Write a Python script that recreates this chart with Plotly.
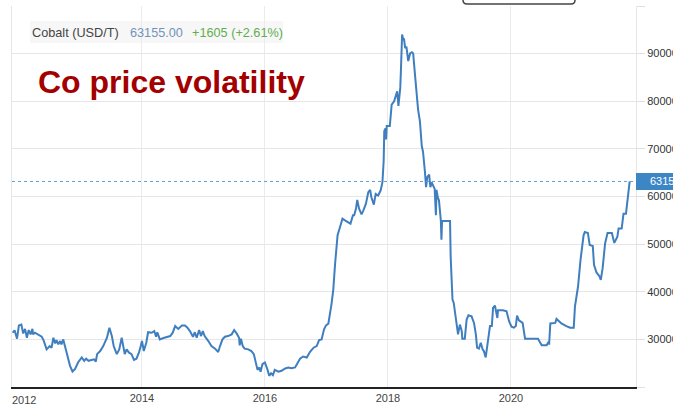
import plotly.graph_objects as go
import pandas as pd

# ---- data (decimal year, USD/T) ----
years = [
    2011.90, 2011.93, 2011.97, 2012.00, 2012.04, 2012.07, 2012.10, 2012.13, 2012.16, 2012.19,
    2012.22, 2012.23, 2012.26, 2012.31, 2012.37, 2012.40, 2012.45, 2012.50, 2012.53, 2012.56,
    2012.59, 2012.61, 2012.64, 2012.67, 2012.69, 2012.72, 2012.75, 2012.78, 2012.80, 2012.83,
    2012.87, 2012.91, 2012.96, 2013.02, 2013.06, 2013.09, 2013.13, 2013.18, 2013.22, 2013.25,
    2013.27, 2013.32, 2013.37, 2013.43, 2013.47, 2013.51, 2013.54, 2013.59, 2013.63, 2013.67,
    2013.70, 2013.72, 2013.75, 2013.79, 2013.83, 2013.87, 2013.91, 2013.95, 2013.98, 2014.00,
    2014.03, 2014.07, 2014.10, 2014.16, 2014.20, 2014.23, 2014.25, 2014.29, 2014.35, 2014.40,
    2014.46, 2014.50, 2014.54, 2014.59, 2014.65, 2014.70, 2014.74, 2014.78, 2014.83, 2014.86,
    2014.89, 2014.93, 2014.96, 2014.99, 2015.02, 2015.08, 2015.13, 2015.19, 2015.24, 2015.27,
    2015.31, 2015.35, 2015.40, 2015.46, 2015.50, 2015.54, 2015.58, 2015.59, 2015.61, 2015.64,
    2015.67, 2015.73, 2015.78, 2015.82, 2015.85, 2015.88, 2015.91, 2015.93, 2015.96, 2016.00,
    2016.04, 2016.07, 2016.10, 2016.13, 2016.16, 2016.22, 2016.27, 2016.33, 2016.38, 2016.43,
    2016.49, 2016.53, 2016.57, 2016.62, 2016.68, 2016.73, 2016.79, 2016.84, 2016.88, 2016.92,
    2016.96, 2016.99, 2017.03, 2017.08, 2017.11, 2017.14, 2017.18, 2017.22, 2017.26, 2017.30,
    2017.35, 2017.39, 2017.43, 2017.45, 2017.48, 2017.50, 2017.53, 2017.57, 2017.60, 2017.64,
    2017.68, 2017.71, 2017.73, 2017.77, 2017.80, 2017.84, 2017.88, 2017.91, 2017.93, 2017.94,
    2017.96, 2017.97, 2017.98, 2018.03, 2018.06, 2018.10, 2018.13, 2018.15, 2018.17, 2018.20,
    2018.21, 2018.23, 2018.25, 2018.26, 2018.28, 2018.30, 2018.33, 2018.36, 2018.39, 2018.41,
    2018.44, 2018.47, 2018.49, 2018.52, 2018.55, 2018.57, 2018.59, 2018.60, 2018.62, 2018.64,
    2018.67, 2018.69, 2018.71, 2018.74, 2018.76, 2018.78, 2018.79, 2018.81, 2018.83, 2018.86,
    2018.87, 2018.88, 2018.95, 2019.01, 2019.02, 2019.05, 2019.07, 2019.11, 2019.14, 2019.17,
    2019.20, 2019.21, 2019.25, 2019.28, 2019.31, 2019.36, 2019.40, 2019.43, 2019.45, 2019.48,
    2019.51, 2019.54, 2019.56, 2019.59, 2019.63, 2019.66, 2019.69, 2019.71, 2019.74, 2019.78,
    2019.79, 2019.87, 2019.93, 2019.97, 2020.01, 2020.05, 2020.08, 2020.10, 2020.13, 2020.19,
    2020.23, 2020.44, 2020.50, 2020.58, 2020.61, 2020.62, 2020.64, 2020.72, 2020.74, 2020.79,
    2020.82, 2020.90, 2020.96, 2021.02, 2021.04, 2021.09, 2021.13, 2021.18, 2021.20, 2021.25,
    2021.28, 2021.33, 2021.35, 2021.39, 2021.44, 2021.46, 2021.49, 2021.53, 2021.57, 2021.64,
    2021.68, 2021.73, 2021.75, 2021.80, 2021.83, 2021.87, 2021.89, 2021.93,
]
prices = [
    31400, 31900, 30150, 32900, 33100, 31250, 32200, 30350, 31950, 31050,
    32200, 31050, 31400, 31050, 30550, 29850, 27900, 28600, 28250, 30350,
    29150, 29850, 28950, 29650, 28950, 30000, 28600, 27200, 25800, 24450,
    23250, 23750, 25150, 26200, 25500, 25950, 25500, 25600, 25800, 25350,
    26900, 27550, 28600, 30350, 32450, 30700, 28600, 26900, 27900, 30350,
    28600, 26900, 27900, 27200, 26900, 25700, 25950, 27200, 28600, 29650,
    27550, 29300, 31500, 31400, 31750, 30550, 31500, 30000, 30300, 30550,
    30700, 31400, 32800, 32200, 32900, 32900, 32450, 31750, 30550, 31500,
    30350, 31950, 30700, 31750, 30700, 29650, 28600, 28050, 27350, 28600,
    30000, 30550, 30700, 31050, 31950, 31250, 30350, 28750, 30150, 28600,
    28050, 27900, 27550, 26900, 25150, 23600, 24100, 23200, 24800, 25150,
    23750, 22350, 22900, 22500, 23600, 23200, 23400, 23900, 24100, 23950,
    24100, 25150, 25950, 26400, 26200, 27350, 28250, 28600, 29850, 30000,
    32100, 32900, 33300, 37300, 40400, 45950, 51850, 53600, 55350, 55000,
    54650, 54300, 56050, 56050, 57450, 59300, 57450, 56250, 57100, 58450,
    60900, 61400, 59850, 58300, 60550, 60200, 61250, 63000, 67500, 73750,
    74300, 72000, 74800, 74800, 79300, 80000, 81250, 82100, 79000, 82800,
    86250, 94000, 92850, 93200, 91150, 91450, 88450, 90050, 90300, 90050,
    85550, 80000, 78250, 75800, 70600, 69400, 67500, 65400, 61950, 64050,
    64600, 61950, 63000, 62300, 61600, 56050, 61400, 59850, 59150, 55000,
    50950, 54850, 54850, 54850, 47350, 38350, 37650, 33450, 31050, 33100,
    31750, 30150, 30150, 34150, 35050, 34850, 33450, 31050, 28250, 28050,
    29300, 27900, 27550, 26200, 30700, 32800, 32800, 36600, 37100, 34500,
    36100, 36100, 35900, 33800, 32650, 32450, 32800, 35000, 34000, 33450,
    30150, 30150, 28750, 28750, 29450, 28900, 33350, 33450, 34300, 33800,
    33350, 32800, 32450, 32450, 36950, 41100, 46650, 51850, 52550, 52350,
    49800, 49600, 45650, 44050, 43200, 42500, 44950, 50150, 52350, 52350,
    50250, 51550, 53300, 53300, 56400, 56400, 59150, 63155,
]
y_ticks = [20000, 30000, 40000, 50000, 60000, 70000, 80000, 90000, 100000]
y_tick_text = ["", "30000", "40000", "50000", "60000", "70000", "80000", "90000", ""]
x_tick_years = [2014, 2016, 2018, 2020]
last_price = 63155.00
change_text = "+1605 (+2.61%)"


def to_date(y):
    yr = int(y)
    start = pd.Timestamp(year=yr, month=1, day=1)
    end = pd.Timestamp(year=yr + 1, month=1, day=1)
    return start + (end - start) * (y - yr)


dates = [to_date(y) for y in years]

W, H = 673, 410
L, R, T, B = 12, 37, 6, 23
PW, PH = W - L - R, H - T - B


def px(x):
    return (x - L) / PW


def py(y):
    return (H - B - y) / PH


FONT = "Liberation Sans, Arial, sans-serif"
LINE_COLOR = "#3f7fbf"

fig = go.Figure()
fig.add_trace(go.Scatter(
    x=dates, y=prices, mode="lines",
    line=dict(color=LINE_COLOR, width=2),
    hoverinfo="skip", showlegend=False,
))

fig.update_layout(
    width=W, height=H,
    margin=dict(l=L, r=R, t=T, b=B, pad=0),
    paper_bgcolor="white", plot_bgcolor="white",
    showlegend=False,
    xaxis=dict(
        type="date",
        range=[to_date(2011.888), to_date(2022.033)],
        tickvals=[to_date(y) for y in x_tick_years],
        ticktext=[str(y) for y in x_tick_years],
        showgrid=True, gridcolor="#ebebeb", gridwidth=1,
        showline=True, linecolor="#222222", linewidth=1.5,
        ticks="", zeroline=False,
        tickfont=dict(family=FONT, size=11, color="#444444"),
        automargin=False,
    ),
    yaxis=dict(
        side="right",
        range=[20000, 100000],
        tickvals=y_ticks, ticktext=y_tick_text,
        showgrid=True, gridcolor="#e6e6e6", gridwidth=1,
        showline=True, linecolor="#e6e6e6", linewidth=1, mirror=True,
        ticks="outside", ticklen=8, tickcolor="#e0e0e0",
        zeroline=False,
        tickfont=dict(family=FONT, size=11, color="#333333"),
        automargin=False,
    ),
)

shapes = []
# header background
shapes.append(dict(type="rect", xref="paper", yref="paper",
                   x0=px(30), x1=px(283), y0=py(43), y1=py(21),
                   fillcolor="#f7f7f7", line=dict(width=0), layer="below"))
# top button outline (cut off)
bx0, bx1, by0, by1 = px(463), px(575), py(4), py(-6)
shapes.append(dict(type="path", xref="paper", yref="paper",
                   path=(f"M {bx0},{by1} L {bx0},{py(0)} Q {bx0},{by0} {px(467)},{by0} "
                         f"L {px(571)},{by0} Q {bx1},{by0} {bx1},{py(0)} L {bx1},{by1}"),
                   line=dict(color="#444444", width=1.5)))
# last-price dotted line
shapes.append(dict(type="line", xref="paper", yref="y",
                   x0=0, x1=1, y0=last_price, y1=last_price,
                   line=dict(color="#5fa0d0", width=1, dash="dot")))
# last-price tag
shapes.append(dict(type="rect", xref="paper", yref="paper",
                   x0=1.0, x1=px(680), y0=py(190), y1=py(173),
                   fillcolor="#3d86c6", line=dict(width=0)))
fig.update_layout(shapes=shapes)

annotations = [
    dict(text="Cobalt (USD/T)", x=px(30), y=py(33), xref="paper", yref="paper",
         xanchor="left", yanchor="middle", showarrow=False,
         font=dict(family=FONT, size=12.7, color="#444444")),
    dict(text=f"{last_price:.2f}", x=px(128), y=py(33), xref="paper", yref="paper",
         xanchor="left", yanchor="middle", showarrow=False,
         font=dict(family=FONT, size=12.7, color="#7393b8")),
    dict(text=change_text, x=px(190), y=py(33), xref="paper", yref="paper",
         xanchor="left", yanchor="middle", showarrow=False,
         font=dict(family=FONT, size=12.7, color="#5fae4f")),
    dict(text="<b>Co price volatility</b>", x=px(36), y=py(82), xref="paper", yref="paper",
         xanchor="left", yanchor="middle", showarrow=False,
         font=dict(family=FONT, size=32, color="#a30000")),
    dict(text=f"{last_price:.2f}", x=px(648), y=last_price, xref="paper", yref="y",
         xanchor="left", yanchor="middle", showarrow=False,
         font=dict(family=FONT, size=11, color="white")),
    dict(text="2012", x=px(24), y=py(400), xref="paper", yref="paper",
         xanchor="center", yanchor="middle", showarrow=False,
         font=dict(family=FONT, size=11, color="#444444")),
]
fig.update_layout(annotations=annotations)

fig.write_html("out.html")
